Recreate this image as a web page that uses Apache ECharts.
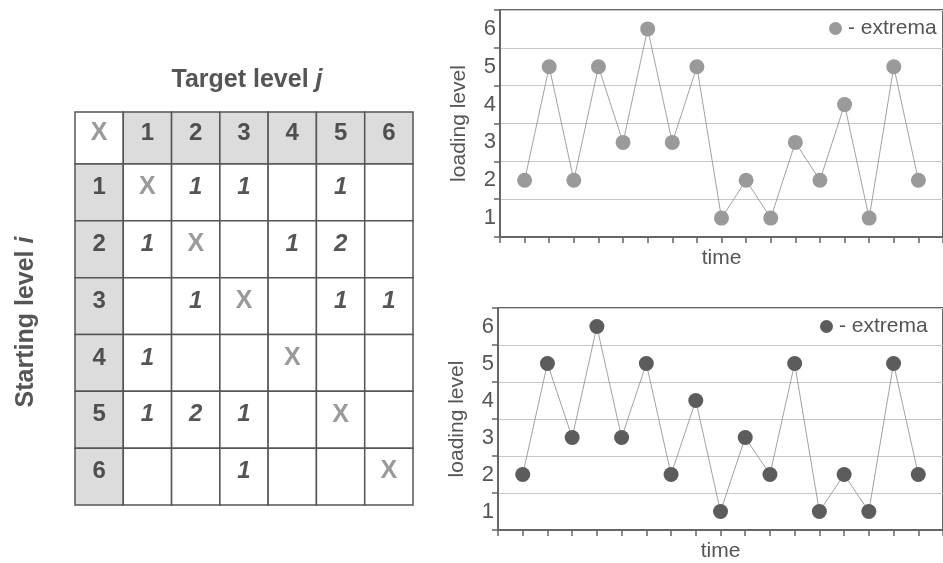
<!DOCTYPE html>
<html><head><meta charset="utf-8">
<script src="https://cdn.jsdelivr.net/npm/echarts@6/dist/echarts.min.js"></script>
<style>html,body{margin:0;padding:0;background:#fff}#c{width:943px;height:563px}</style>
</head><body><div id="c"></div>
<script>
// ---- data ----
const targetLevels = ['1','2','3','4','5','6'];
const startLevels = ['1','2','3','4','5','6'];
const transitionCounts = [
  [null, 1, 1, null, 1, null],
  [1, null, null, 1, 2, null],
  [null, 1, null, null, 1, 1],
  [1, null, null, null, null, null],
  [1, 2, 1, null, null, null],
  [null, null, 1, null, null, null]
];
const diagonalMark = 'X';
const loadingTicks = ['1','2','3','4','5','6'];
const sequenceTop = [2,5,2,5,3,6,3,5,1,2,1,3,2,4,1,5,2];
const sequenceBottom = [2,5,3,6,3,5,2,4,1,3,2,5,1,2,1,5,2];
const legendLabel = '- extrema';
const xName = 'time';
const yName = 'loading level';
const titleTarget = ['Target level ', 'j'];
const titleStart = ['Starting level ', 'i'];

// ---- build ----
const FONT = '"Liberation Sans", Arial, Helvetica, sans-serif';
const headCells = [[0, 0, diagonalMark, 'corner']].concat(targetLevels.map((t, j) => [j + 1, 0, t, 'head']));
const bodyCells = [];
startLevels.forEach((s, i) => {
  bodyCells.push([0, i, s, 'head']);
  targetLevels.forEach((t, j) => {
    const v = transitionCounts[i][j];
    if (i === j) bodyCells.push([j + 1, i, diagonalMark, 'x']);
    else bodyCells.push([j + 1, i, v == null ? '' : String(v), 'count']);
  });
});

function cellStyle(kind) {
  if (kind === 'head') return { bg: '#dcdcdc', fill: '#4f4f4f', size: 24, style: 'normal' };
  if (kind === 'count') return { bg: '#ffffff', fill: '#555555', size: 24, style: 'italic' };
  return { bg: '#ffffff', fill: '#9a9a9a', size: 25, style: 'normal' };
}
function makeRender(cells) {
  return function (params, api) {
    const c = cells[params.dataIndex];
    const p = api.coord([api.value(0), api.value(1)]);
    const s = api.size([1, 1]);
    const st = cellStyle(c[3]);
    return {
      type: 'group',
      children: [
        { type: 'rect', shape: { x: p[0] - s[0] / 2, y: p[1] - s[1] / 2, width: s[0], height: s[1] },
          style: { fill: st.bg, stroke: '#555', lineWidth: 1.5 } },
        { type: 'text', x: p[0], y: p[1] - 5,
          style: { text: c[2], fontFamily: FONT, fontSize: st.size, fontWeight: 'bold', fontStyle: st.style,
            fill: st.fill, align: 'center', verticalAlign: 'middle' } }
      ]
    };
  };
}

const lineAxisCommon = (gi, name, nameGap) => ({
  gridIndex: gi, type: 'value', min: 0, max: 18, interval: 1,
  axisLine: { show: true, lineStyle: { color: '#666', width: 2 } },
  axisTick: { show: true, length: 6, lineStyle: { color: '#666', width: 1.5 } },
  axisLabel: { show: false }, splitLine: { show: false },
  name: name, nameLocation: 'middle', nameGap: nameGap,
  nameTextStyle: { fontFamily: FONT, fontSize: 21, color: '#555' }
});
const yLineAxis = (gi) => ({
  gridIndex: gi, type: 'category', data: loadingTicks, boundaryGap: true,
  axisLine: { show: true, lineStyle: { color: '#666', width: 2 } },
  axisTick: { show: true, length: 6, lineStyle: { color: '#666', width: 1.5 } },
  axisLabel: { fontFamily: FONT, fontSize: 22, color: '#555', margin: 4 },
  splitLine: { show: true, lineStyle: { color: '#c8c8c8', width: 1 } },
  name: yName, nameLocation: 'middle', nameGap: 30, nameRotate: 90,
  nameTextStyle: { fontFamily: FONT, fontSize: 21, color: '#555' }
});

const option = {
  animation: false,
  backgroundColor: '#fff',
  grid: [
    { left: 75, top: 112, width: 338, height: 52 },
    { left: 75, top: 164, width: 338, height: 341 },
    { left: 500, top: 10, width: 450, height: 227, show: true, borderColor: '#666', borderWidth: 2 },
    { left: 498, top: 308, width: 450, height: 227, show: true, borderColor: '#666', borderWidth: 2 }
  ],
  xAxis: [
    { gridIndex: 0, type: 'category', data: [''].concat(targetLevels), show: false },
    { gridIndex: 1, type: 'category', data: [''].concat(targetLevels), show: false },
    lineAxisCommon(2, xName, 11),
    lineAxisCommon(3, xName, 11)
  ],
  yAxis: [
    { gridIndex: 0, type: 'category', data: [''], show: false, inverse: true },
    { gridIndex: 1, type: 'category', data: startLevels, show: false, inverse: true },
    yLineAxis(2),
    yLineAxis(3)
  ],
  legend: [
    { left: 829, top: 18, padding: 0, icon: 'circle', itemWidth: 13, itemHeight: 13, itemGap: 0,
      data: [{ name: 'top', itemStyle: { color: '#9a9a9a' } }],
      formatter: () => legendLabel, selectedMode: false,
      textStyle: { fontFamily: FONT, fontSize: 21, color: '#555', padding: [0, 0, 0, 1] } },
    { left: 820, top: 316, padding: 0, icon: 'circle', itemWidth: 13, itemHeight: 13, itemGap: 0,
      data: [{ name: 'bottom', itemStyle: { color: '#5c5c5c' } }],
      formatter: () => legendLabel, selectedMode: false,
      textStyle: { fontFamily: FONT, fontSize: 21, color: '#555', padding: [0, 0, 0, 1] } }
  ],
  series: [
    { type: 'custom', xAxisIndex: 0, yAxisIndex: 0, renderItem: makeRender(headCells),
      data: headCells.map(c => [c[0], c[1]]), encode: { x: 0, y: 1 } },
    { type: 'custom', xAxisIndex: 1, yAxisIndex: 1, renderItem: makeRender(bodyCells),
      data: bodyCells.map(c => [c[0], c[1]]), encode: { x: 0, y: 1 } },
    { name: 'top', type: 'line', xAxisIndex: 2, yAxisIndex: 2,
      data: sequenceTop.map((v, i) => [i + 1, String(v)]),
      symbol: 'circle', symbolSize: 15, showSymbol: true,
      lineStyle: { color: '#8a8a8a', width: 0.8 }, itemStyle: { color: '#9a9a9a' } },
    { name: 'bottom', type: 'line', xAxisIndex: 3, yAxisIndex: 3,
      data: sequenceBottom.map((v, i) => [i + 1, String(v)]),
      symbol: 'circle', symbolSize: 15, showSymbol: true,
      lineStyle: { color: '#8a8a8a', width: 0.8 }, itemStyle: { color: '#5c5c5c' } }
  ],
  graphic: [
    { type: 'text', x: 247, y: 80,
      style: { text: '{b|' + titleTarget[0] + '}{i|' + titleTarget[1] + '}', align: 'center', verticalAlign: 'middle',
        rich: { b: { fontFamily: FONT, fontSize: 25, fontWeight: 'bold', fill: '#555', color: '#555' },
                i: { fontFamily: FONT, fontSize: 25, fontWeight: 'bold', fontStyle: 'italic', fill: '#555', color: '#555' } } } },
    { type: 'text', x: 26, y: 322, rotation: Math.PI / 2,
      style: { text: '{b|' + titleStart[0] + '}{i|' + titleStart[1] + '}', align: 'center', verticalAlign: 'middle',
        rich: { b: { fontFamily: FONT, fontSize: 25, fontWeight: 'bold', fill: '#555', color: '#555' },
                i: { fontFamily: FONT, fontSize: 25, fontWeight: 'bold', fontStyle: 'italic', fill: '#555', color: '#555' } } } }
  ]
};
const chart = echarts.init(document.getElementById('c'), null, { renderer: 'canvas' });
chart.setOption(option);
</script></body></html>
